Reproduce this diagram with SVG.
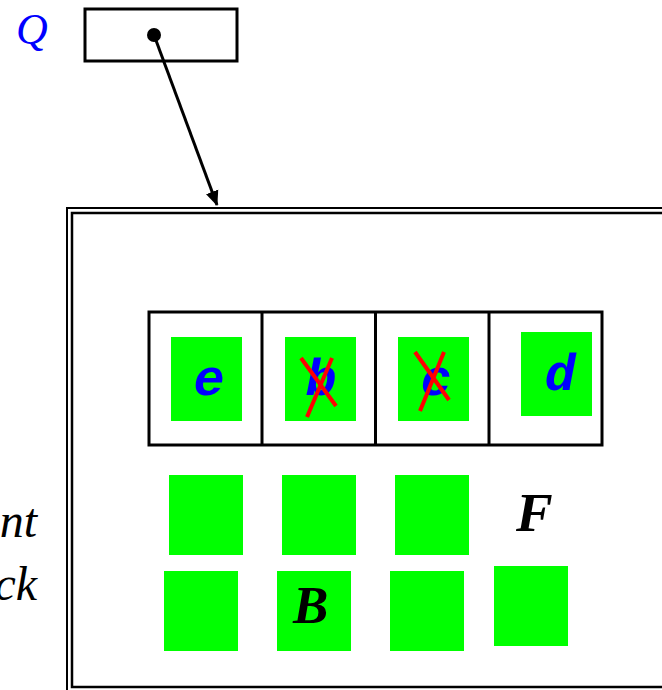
<svg xmlns="http://www.w3.org/2000/svg" width="662" height="690" viewBox="0 0 662 690">
  <style>
    .box { fill: #ffffff; stroke: #000000; }
    .cell { fill: #00ff00; }
    .code { font-family: "Liberation Mono", "Courier New", monospace; font-weight: bold; font-style: italic; font-size: 52px; fill: #0000ff; text-anchor: middle; }
    .strike { stroke: #ff0000; stroke-width: 4; stroke-linecap: butt; }
    .label { font-family: "Liberation Serif", "Times New Roman", serif; font-style: italic; fill: #000000; }
  </style>
  <defs>
    <marker id="arrowhead" markerWidth="15" markerHeight="16" refX="14" refY="8" orient="auto" markerUnits="userSpaceOnUse">
      <path d="M0,1.5 L15,8 L0,14.5 z" fill="#000000"/>
    </marker>
  </defs>

  <rect width="662" height="690" fill="#ffffff"/>

  <!-- pointer variable Q -->
  <g id="q-var">
    <text x="16" y="44" class="label" font-size="44" style="fill:#0000ff">Q</text>
    <rect class="box" x="85" y="9" width="152" height="52" stroke-width="3"/>
    <circle cx="154" cy="35" r="7" fill="#000000"/>
  </g>

  <!-- left labels, clipped at the edge -->
  <g id="side-labels">
    <text x="37" y="537" class="label" font-size="48" text-anchor="end">nt</text>
    <text x="37" y="600" class="label" font-size="48" text-anchor="end">ck</text>
  </g>

  <!-- outer block with double border -->
  <g id="block">
    <rect x="67" y="208" width="610" height="490" fill="none" stroke="#000000" stroke-width="2"/>
    <rect x="72" y="213" width="600" height="474" fill="#ffffff" stroke="#000000" stroke-width="2.5"/>
  </g>

  <!-- array of four slots -->
  <g id="array">
    <rect class="box" x="149" y="312" width="453" height="133" stroke-width="3"/>
    <line x1="262" y1="312" x2="262" y2="445" stroke="#000000" stroke-width="3"/>
    <line x1="375.5" y1="312" x2="375.5" y2="445" stroke="#000000" stroke-width="3"/>
    <line x1="489" y1="312" x2="489" y2="445" stroke="#000000" stroke-width="3"/>
  </g>

  <g id="slot-e">
    <rect class="cell" x="171" y="337" width="71" height="84"/>
    <text x="209" y="395" class="code">e</text>
  </g>
  <g id="slot-b">
    <rect class="cell" x="285" y="337" width="71" height="84"/>
    <text x="321" y="395" class="code">b</text>
    <line class="strike" x1="301" y1="358" x2="336" y2="406"/>
    <line class="strike" x1="332" y1="358" x2="307" y2="417"/>
  </g>
  <g id="slot-c">
    <rect class="cell" x="398" y="337" width="71" height="84"/>
    <text x="436" y="395" class="code">c</text>
    <line class="strike" x1="415" y1="352" x2="449" y2="400"/>
    <line class="strike" x1="444" y1="352" x2="420" y2="411"/>
  </g>
  <g id="slot-d">
    <rect class="cell" x="521" y="332" width="71" height="84"/>
    <text x="560" y="390" class="code">d</text>
  </g>

  <!-- free cells -->
  <g id="cell-r1-1"><rect class="cell" x="169" y="475" width="74" height="80"/></g>
  <g id="cell-r1-2"><rect class="cell" x="282" y="475" width="74" height="80"/></g>
  <g id="cell-r1-3"><rect class="cell" x="395" y="475" width="74" height="80"/></g>
  <g id="label-F"><text x="516" y="531" class="label" font-size="55" font-weight="bold">F</text></g>
  <g id="cell-r2-1"><rect class="cell" x="164" y="571" width="74" height="80"/></g>
  <g id="cell-r2-2">
    <rect class="cell" x="277" y="571" width="74" height="80"/>
    <text x="293" y="623" class="label" font-size="53" font-weight="bold">B</text>
  </g>
  <g id="cell-r2-3"><rect class="cell" x="390" y="571" width="74" height="80"/></g>
  <g id="cell-r2-4"><rect class="cell" x="494" y="566" width="74" height="80"/></g>

  <!-- connectors -->
  <g id="connectors">
    <line x1="154" y1="35" x2="217" y2="205" stroke="#000000" stroke-width="3" marker-end="url(#arrowhead)"/>
  </g>
</svg>
